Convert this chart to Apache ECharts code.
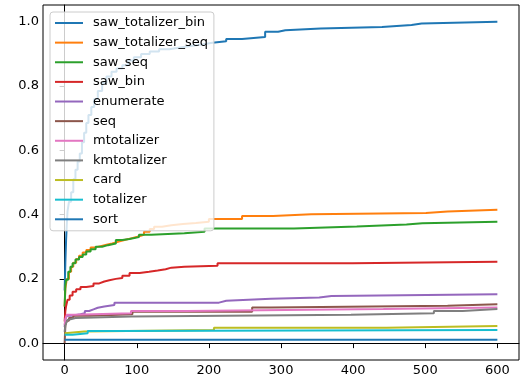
<!DOCTYPE html>
<html>
<head>
<meta charset="utf-8">
<script src="https://cdn.jsdelivr.net/npm/echarts@6/dist/echarts.min.js"></script>
<style>html,body{margin:0;padding:0;background:#fff;}#chart{width:526px;height:388px;}</style>
</head>
<body>
<div id="chart"></div>
<script>
// Series names (legend order)
var seriesNames = ['saw_totalizer_bin','saw_totalizer_seq','saw_seq','saw_bin','enumerate','seq','mtotalizer','kmtotalizer','card','totalizer','sort'];
var seriesColors = ['#1f77b4','#ff7f0e','#2ca02c','#d62728','#9467bd','#8c564b','#e377c2','#7f7f7f','#bcbd22','#17becf','#1f77b4'];

// Values: [x, y] where y becomes the new value at x
var sawTotalizerBin = [[0,0.164],[1,0.25],[2,0.32],[3,0.37],[4,0.41],[6,0.44],[9,0.47],[12,0.51],[15,0.54],[18,0.565],[21,0.59],[24,0.625],[27,0.655],[30,0.685],[33,0.71],[37,0.735],[41,0.76],[46,0.785],[52,0.81],[58,0.83],[65,0.845],[72,0.855],[80,0.865],[88,0.88],[96,0.89],[106,0.9],[118,0.908],[131,0.915],[145,0.92],[160,0.925],[175,0.93],[192,0.935],[205,0.94],[224,0.947],[246,0.953],[278,0.969],[296,0.974],[306,0.979],[355,0.984],[440,0.99],[481,0.995],[495,1.0],[600,1.0]];
var sawTotalizerSeq = [[0,0.114],[1,0.17],[3,0.2],[6,0.222],[9,0.238],[12,0.25],[16,0.262],[20,0.272],[25,0.282],[30,0.29],[36,0.298],[42,0.302],[50,0.306],[58,0.31],[66,0.316],[75,0.321],[83,0.326],[92,0.331],[101,0.337],[110,0.347],[118,0.355],[124,0.362],[135,0.367],[148,0.371],[164,0.374],[182,0.378],[200,0.386],[246,0.396],[289,0.401],[342,0.405],[501,0.41],[531,0.415],[600,0.415]];
var sawSeq = [[0,0.114],[1,0.18],[2,0.197],[5,0.222],[8,0.238],[11,0.249],[15,0.26],[20,0.268],[25,0.276],[30,0.285],[36,0.292],[43,0.3],[52,0.305],[60,0.31],[71,0.321],[80,0.324],[90,0.33],[103,0.337],[120,0.342],[166,0.347],[194,0.357],[318,0.363],[405,0.369],[474,0.373],[496,0.378],[600,0.378]];
var sawBin = [[0,0.067],[1,0.1],[2,0.115],[4,0.135],[7,0.148],[11,0.16],[16,0.168],[22,0.175],[30,0.178],[40,0.186],[48,0.192],[55,0.196],[62,0.2],[71,0.203],[80,0.21],[90,0.218],[104,0.222],[117,0.226],[129,0.23],[140,0.235],[148,0.238],[166,0.241],[212,0.249],[399,0.253],[600,0.253]];
var enumerateV = [[0,0.05],[1,0.075],[3,0.085],[10,0.09],[22,0.093],[28,0.1],[34,0.105],[40,0.11],[46,0.114],[55,0.119],[69,0.126],[214,0.132],[224,0.138],[286,0.142],[353,0.147],[370,0.152],[600,0.152]];
var seqV = [[0,0],[1,0.055],[3,0.07],[6,0.078],[12,0.085],[35,0.09],[94,0.098],[260,0.111],[286,0.116],[531,0.121],[600,0.121]];
var mtotalizer = [[0,0.057],[1,0.075],[3,0.088],[13,0.093],[92,0.1],[170,0.106],[442,0.111],[600,0.111]];
var kmtotalizer = [[0,0.035],[1,0.055],[2,0.062],[4,0.072],[6,0.078],[15,0.083],[92,0.088],[397,0.093],[512,0.1],[552,0.106],[600,0.106]];
var card = [[0,0.031],[2,0.036],[27,0.041],[207,0.048],[446,0.053],[600,0.053]];
var totalizer = [[0,0.026],[11,0.031],[32,0.038],[73,0.041],[600,0.041]];
var sortV = [[0,0.0103],[600,0.0103]];

var allValues = [sawTotalizerBin, sawTotalizerSeq, sawSeq, sawBin, enumerateV, seqV, mtotalizer, kmtotalizer, card, totalizer, sortV];

var xTicks = [0,100,200,300,400,500,600];
var yTicks = [0,0.2,0.4,0.6,0.8,1.0];

var chart = echarts.init(document.getElementById('chart'), null, {renderer:'canvas'});
var font = 'DejaVu Sans';
var series = seriesNames.map(function(n,i){
  return {
    name: n, type: 'line', step: 'end', data: allValues[i],
    showSymbol: false, symbol: 'none', animation: false,
    lineStyle: {width: 2, color: seriesColors[i]},
    itemStyle: {color: seriesColors[i]}
  };
});
chart.setOption({
  animation: false,
  backgroundColor: '#fff',
  grid: {left: 43, right: 7, top: 5, bottom: 28, show: true, borderColor: '#000', borderWidth: 1, backgroundColor: 'transparent'},
  xAxis: {
    type: 'value', min: -30, max: 630,
    axisLine: {show: true, lineStyle: {color: '#000', width: 1}},
    axisTick: {show: true, length: 5, customValues: xTicks, lineStyle: {color: '#000'}},
    axisLabel: {customValues: xTicks, color: '#000', fontFamily: font, fontSize: 13, margin: 4},
    splitLine: {show: false}
  },
  yAxis: {
    type: 'value', min: -0.0525, max: 1.0525,
    axisLine: {show: true, lineStyle: {color: '#000', width: 1}},
    axisTick: {show: true, length: 5, customValues: yTicks, lineStyle: {color: '#000'}},
    axisLabel: {customValues: yTicks, color: '#000', fontFamily: font, fontSize: 13, margin: 4,
      formatter: function(v){ return v.toFixed(1); }},
    splitLine: {show: false}
  },
  legend: {
    orient: 'vertical', left: 50, top: 12, z: 10,
    data: seriesNames.map(function(n,i){ return {name: n, itemStyle: {color: seriesColors[i]}}; }),
    icon: 'rect', itemWidth: 28, itemHeight: 2, itemGap: 4.63,
    padding: [3.5, 6, 4, 5],
    backgroundColor: 'rgba(255,255,255,0.8)', borderColor: '#cccccc', borderWidth: 1, borderRadius: 3,
    textStyle: {fontFamily: font, fontSize: 13, color: '#000', lineHeight: 15, padding: [0,0,0,5]},
    selectedMode: false
  },
  series: series
});
</script>
</body>
</html>
